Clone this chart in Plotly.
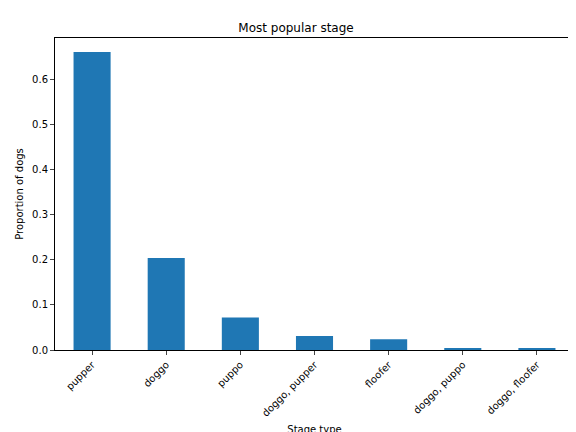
import plotly.graph_objects as go

# Stage proportions
stages = ['pupper', 'doggo', 'puppo', 'doggo, pupper', 'floofer', 'doggo, puppo', 'doggo, floofer']
proportions = [0.661, 0.204, 0.072, 0.031, 0.024, 0.004, 0.004]

fig = go.Figure()
fig.add_trace(go.Bar(
    x=stages,
    y=proportions,
    width=0.5,
    marker=dict(color='#1f77b4', line_width=0),
))

axis_font = dict(family='DejaVu Sans', size=10, color='black')

fig.update_layout(
    width=576, height=432,
    title=dict(text='Most popular stage', x=0.5, xanchor='center', y=0.965,
               font=dict(family='DejaVu Sans', size=12, color='black')),
    xaxis=dict(
        title=dict(text='Stage type', font=axis_font, standoff=8),
        tickangle=-45, tickfont=axis_font,
        showline=True, linecolor='black', mirror=True,
        ticks='outside', ticklen=4, showgrid=False,
        range=[-0.5, 6.5],
    ),
    yaxis=dict(
        title=dict(text='Proportion of dogs', font=axis_font, standoff=6),
        tickfont=axis_font, tickformat='.1f', dtick=0.1,
        showline=True, linecolor='black', mirror=True,
        ticks='outside', ticklen=4, showgrid=False, zeroline=False,
        range=[0, 0.692],
    ),
    plot_bgcolor='white',
    paper_bgcolor='white',
    margin=dict(l=47, r=10, t=30, b=90, autoexpand=False),
    showlegend=False,
)

fig.write_html("out.html")
